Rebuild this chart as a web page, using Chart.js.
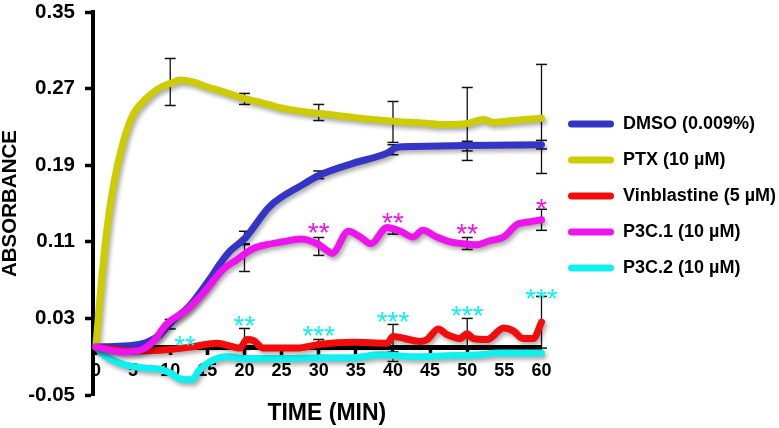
<!DOCTYPE html>
<html>
<head>
<meta charset="utf-8">
<script src="https://cdn.jsdelivr.net/npm/chart.js@4.4.1/dist/chart.umd.min.js"></script>
<style>
  html, body { margin: 0; padding: 0; background: #fff; }
  canvas { display: block; }
</style>
</head>
<body>
<canvas id="tubulin-chart" width="779" height="428"></canvas>
<script>
// readings taken off the figure (time in minutes, absorbance)
const seriesNames = ['DMSO (0.009%)', 'PTX (10 µM)', 'Vinblastine (5 µM)', 'P3C.1 (10 µM)', 'P3C.2 (10 µM)'];
const seriesColors = ['#3434c6', '#cccc00', '#f20c0c', '#ee14ee', '#12efef'];

const dmsoMinutes = [0, 3, 6, 8.6, 10, 12.7, 15.4, 16.7, 18, 20.1, 23.4, 27.9, 30.2, 34.6, 39.2, 40.5, 42.8, 49.9, 60];
const dmsoAbs = [0.0, 0.001, 0.003, 0.013, 0.025, 0.044, 0.072, 0.087, 0.1, 0.114, 0.147, 0.17, 0.18, 0.192, 0.2026, 0.2086, 0.2095, 0.2106, 0.2115];

const ptxMinutes = [0, 0.5, 1.4, 2.3, 3.7, 5.0, 6.8, 8.4, 10.2, 11.3, 13, 14.9, 17.5, 19.8, 22, 24.3, 27, 30.2, 34.6, 40, 44, 47.2, 50, 52.2, 53.5, 56.2, 60];
const ptxAbs = [0.002, 0.048, 0.118, 0.166, 0.215, 0.243, 0.26, 0.27, 0.276, 0.279, 0.277, 0.272, 0.266, 0.26, 0.256, 0.251, 0.247, 0.244, 0.24, 0.236, 0.234, 0.2325, 0.2336, 0.2378, 0.2347, 0.2367, 0.239];

const vinMinutes = [0, 4.6, 9, 12.7, 15, 16.3, 17.6, 19.4, 20.3, 21.2, 22.5, 27, 30.2, 34.6, 39.2, 40, 43.7, 44.6, 46.1, 47.3, 49, 50, 50.8, 52.7, 54.9, 56.2, 57.5, 58.9, 60];
const vinAbs = [0.0, -0.004, -0.003, 0.0, 0.003, 0.004, 0.002, -0.001, 0.008, 0.007, -0.001, -0.001, 0.003, 0.005, 0.004, 0.011, 0.006, 0.008, 0.019, 0.013, 0.009, 0.014, 0.009, 0.008, 0.02, 0.017, 0.009, 0.009, 0.026];

const p3c1Minutes = [0, 3.6, 6, 7.7, 9.5, 12.2, 14.4, 17.1, 18.9, 21.2, 23, 25.2, 27.5, 29.8, 31.3, 31.8, 34, 35.6, 37, 39.2, 41, 42.7, 44, 45.9, 47.7, 49.5, 51.3, 53, 54.9, 56.7, 58.5, 60];
const p3c1Abs = [0.0, -0.005, -0.003, 0.006, 0.024, 0.039, 0.056, 0.081, 0.091, 0.103, 0.107, 0.11, 0.113, 0.108, 0.1, 0.098, 0.121, 0.115, 0.108, 0.125, 0.121, 0.115, 0.122, 0.115, 0.11, 0.108, 0.107, 0.111, 0.115, 0.128, 0.131, 0.133];

const p3c2Minutes = [0, 1.4, 3.7, 6.8, 8.6, 10, 11.3, 13, 13.8, 15.4, 17.6, 20.3, 24.8, 30.2, 34.6, 38.3, 42.8, 47.3, 51.8, 54, 60];
const p3c2Abs = [0.0, -0.01, -0.018, -0.022, -0.023, -0.027, -0.033, -0.034, -0.025, -0.015, -0.01, -0.012, -0.012, -0.011, -0.011, -0.008, -0.01, -0.009, -0.008, -0.006, -0.006];

// error bars (lower / upper ends), null = not visible
const errMinutes = [10, 20, 30, 40, 50, 60];
const dmsoErrLow = [0.019, 0.107, 0.176, 0.201, 0.205, 0.207];
const dmsoErrHigh = [0.029, 0.121, 0.184, 0.2114, 0.215, 0.216];
const ptxErrLow = [0.2524, 0.2535, 0.2367, 0.2138, 0.195, 0.1814];
const ptxErrHigh = [0.3015, 0.265, 0.2535, 0.2566, 0.2712, 0.2953];
const vinErrLow = [null, 0.0, -0.002, -0.002, -0.002, -0.001];
const vinErrHigh = [null, 0.0195, 0.008, 0.0237, 0.03, 0.053];
const p3c1ErrLow = [null, 0.079, 0.0958, 0.118, 0.102, 0.122];
const p3c1ErrHigh = [null, 0.108, 0.1145, 0.124, 0.1145, 0.144];
const p3c2ErrLow = [null, null, null, -0.015, null, null];
const p3c2ErrHigh = [null, null, null, -0.005, null, null];

// significance marks
const p3c1StarMinutes = [30, 40, 50, 60];
const p3c1StarAbs = [0.127, 0.137, 0.125, 0.152];
const p3c1StarText = ['**', '**', '**', '*'];
const p3c2StarMinutes = [12, 20, 30, 40, 50, 60];
const p3c2StarAbs = [0.008, 0.029, 0.0185, 0.034, 0.040, 0.058];
const p3c2StarText = ['**', '**', '***', '***', '***', '***'];

const xTicks = [0, 5, 10, 15, 20, 25, 30, 35, 40, 45, 50, 55, 60];
const yTicks = [-0.05, 0.03, 0.11, 0.19, 0.27, 0.35];

const FONT = "'Liberation Sans', Arial, sans-serif";
Chart.defaults.font.family = FONT;
Chart.defaults.color = '#000';

function toPoints(xs, ys) {
    return xs.map((x, i) => ({x: x, y: ys[i]}));
}

function errPoints(xs, lo, hi) {
    const pts = [];
    xs.forEach((x, i) => {
        if (lo[i] === null) return;
        pts.push({x: x, y: lo[i]}, {x: x, y: hi[i]}, {x: x, y: null});
    });
    return pts;
}

function mainLine(i, xs, ys, order) {
    return {
        label: seriesNames[i],
        data: toPoints(xs, ys),
        borderColor: seriesColors[i],
        backgroundColor: seriesColors[i],
        borderWidth: 7,
        pointRadius: 0,
        cubicInterpolationMode: 'monotone',
        borderCapStyle: 'round',
        borderJoinStyle: 'round',
        clip: false,
        order: order
    };
}

function errLine(lo, hi) {
    return {
        label: 'err',
        data: errPoints(errMinutes, lo, hi),
        borderColor: '#111',
        borderWidth: 1.3,
        pointStyle: 'line',
        pointRadius: 5.5,
        pointBorderWidth: 1.5,
        pointBorderColor: '#111',
        spanGaps: false,
        tension: 0,
        clip: false,
        order: 10
    };
}

const shadowPlugin = {
    id: 'lineShadow',
    beforeDatasetDraw(chart, args) {
        if (args.index > 4) return;
        const ctx = chart.ctx;
        ctx.save();
        ctx.shadowColor = 'rgba(0,0,0,0.33)';
        ctx.shadowBlur = 4;
        ctx.shadowOffsetX = 2;
        ctx.shadowOffsetY = 3;
    },
    afterDatasetDraw(chart, args) {
        if (args.index > 4) return;
        chart.ctx.restore();
    }
};

const starPlugin = {
    id: 'stars',
    afterDatasetsDraw(chart) {
        const ctx = chart.ctx;
        const xs = chart.scales.x, ys = chart.scales.y;
        const draw = (mins, vals, texts, color) => {
            ctx.fillStyle = color;
            mins.forEach((m, i) => {
                ctx.fillText(texts[i], xs.getPixelForValue(m), ys.getPixelForValue(vals[i]) + 16);
            });
        };
        ctx.save();
        ctx.font = '28px ' + FONT;
        ctx.textAlign = 'center';
        ctx.textBaseline = 'alphabetic';
        draw(p3c1StarMinutes, p3c1StarAbs, p3c1StarText, seriesColors[3]);
        draw(p3c2StarMinutes, p3c2StarAbs, p3c2StarText, seriesColors[4]);
        ctx.restore();
    }
};

const legendPlacer = {
    id: 'legendPlacer',
    afterLayout(chart) {
        const lg = chart.legend;
        lg.left = 550;
        lg.right = 779;
        lg.top = 0;
        lg.bottom = 392;
    }
};

function generateChart(canvas) {
    new Chart(canvas, {
        type: 'line',
        data: {
            datasets: [
                mainLine(0, dmsoMinutes, dmsoAbs, 4),
                mainLine(1, ptxMinutes, ptxAbs, 5),
                mainLine(2, vinMinutes, vinAbs, 2),
                mainLine(3, p3c1Minutes, p3c1Abs, 1),
                mainLine(4, p3c2Minutes, p3c2Abs, 3),
                errLine(dmsoErrLow, dmsoErrHigh),
                errLine(ptxErrLow, ptxErrHigh),
                errLine(vinErrLow, vinErrHigh),
                errLine(p3c1ErrLow, p3c1ErrHigh),
                errLine(p3c2ErrLow, p3c2ErrHigh)
            ]
        },
        options: {
            responsive: false,
            animation: false,
            devicePixelRatio: 1,
            layout: {padding: {left: 0, top: 12, right: 237.5, bottom: 33}},
            scales: {
                x: {
                    type: 'linear',
                    position: {y: 0},
                    min: -0.4,
                    max: 60,
                    afterBuildTicks: scale => { scale.ticks = xTicks.map(v => ({value: v})); },
                    ticks: {
                        callback: v => String(v),
                        font: {size: 18, weight: 'bold'},
                        color: '#000',
                        padding: 8,
                        maxRotation: 0,
                        autoSkip: false
                    },
                    grid: {drawOnChartArea: false, tickLength: 5, tickWidth: 3.5, tickColor: '#000'},
                    border: {display: true, color: '#000', width: 5},
                    title: {
                        display: true,
                        text: '   TIME (MIN)',
                        font: {size: 23, weight: 'bold', lineHeight: 1},
                        color: '#000',
                        padding: {top: 12, bottom: 0}
                    }
                },
                y: {
                    type: 'linear',
                    position: 'left',
                    min: -0.05,
                    max: 0.35,
                    afterBuildTicks: scale => { scale.ticks = yTicks.map(v => ({value: v})); },
                    afterFit: scale => { scale.width = 93; },
                    ticks: {
                        callback: v => v.toFixed(2),
                        font: {size: 20.5, weight: 'bold', lineHeight: 0.2},
                        color: '#000',
                        padding: 10
                    },
                    grid: {drawOnChartArea: false, tickLength: 8, tickWidth: 3.5, tickColor: '#000'},
                    border: {display: true, color: '#000', width: 4},
                    title: {
                        display: true,
                        text: 'ABSORBANCE',
                        font: {size: 20.5, weight: 'bold', lineHeight: 1},
                        color: '#000',
                        padding: {top: 0, bottom: 0}
                    }
                }
            },
            plugins: {
                tooltip: {enabled: false},
                legend: {
                    position: 'chartArea',
                    align: 'center',
                    labels: {
                        boxWidth: 46,
                        boxHeight: 7,
                        padding: 18,
                        color: '#000',
                        font: {size: 18, weight: 'bold'},
                        generateLabels: chart => chart.data.datasets.slice(0, 5).map((ds, i) => ({
                            text: ds.label,
                            fillStyle: ds.borderColor,
                            strokeStyle: ds.borderColor,
                            lineWidth: 0,
                            borderRadius: 3.5,
                            fontColor: '#000',
                            hidden: false,
                            datasetIndex: i
                        }))
                    }
                }
            }
        },
        plugins: [shadowPlugin, starPlugin, legendPlacer]
    });
}

generateChart(document.getElementById('tubulin-chart'));
</script>
</body>
</html>
